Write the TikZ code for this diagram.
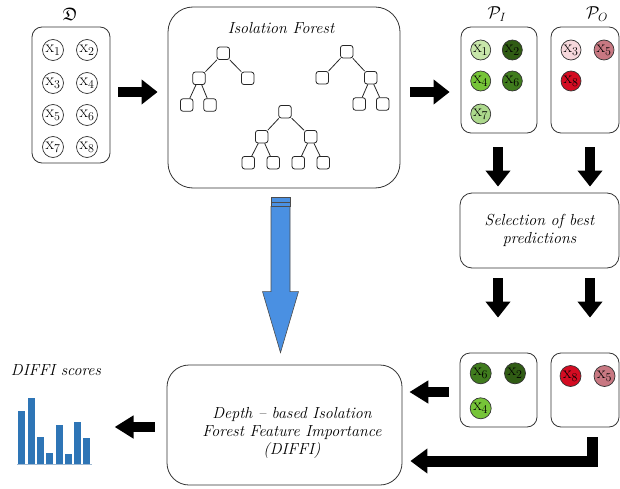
\documentclass[tikz,border=0pt]{standalone}
\usepackage{amssymb}
\usetikzlibrary{arrows.meta,calc}

\definecolor{gA}{RGB}{200,230,170}
\definecolor{gB}{RGB}{48,92,20}
\definecolor{gC}{RGB}{118,196,56}
\definecolor{gD}{RGB}{64,124,30}
\definecolor{gE}{RGB}{172,216,140}
\definecolor{rA}{RGB}{246,216,220}
\definecolor{rB}{RGB}{200,120,130}
\definecolor{rC}{RGB}{212,12,34}
\definecolor{arrowblue}{RGB}{74,144,226}
\definecolor{barblue}{RGB}{46,117,182}
\definecolor{axisblue}{RGB}{160,185,210}

\tikzset{
  panel/.style={draw=black!80, line width=0.8pt, rounded corners=#1, inner sep=0pt},
  panel/.default=10pt,
  dot/.style={circle, draw=black!80, line width=0.7pt, minimum size=21pt, inner sep=0pt,
              font=\fontsize{17}{17}\selectfont},
  leaf/.style={draw=black!85, rounded corners=2.5pt, minimum size=12.5pt, inner sep=0pt,
               line width=0.8pt},
  branch/.style={draw=black!85, line width=0.8pt},
  fat/.style={line width=10pt, -{Triangle[length=16pt,width=24pt]}},
  caption/.style={font=\fontsize{16}{18}\selectfont\itshape, align=center, inner sep=0pt},
  setlabel/.style={font=\fontsize{18}{18}\selectfont, inner sep=0pt}
}

\begin{document}
\begin{tikzpicture}[x=1pt,y=-1pt]
\useasboundingbox (0,0) rectangle (620,489);

% ---------- data set D ----------
\node[setlabel] (Dlab) at (70,14) {$\mathfrak{D}$};
\node[panel] (D) at (71,95) [minimum width=78pt, minimum height=136pt] {};
\node[dot] (d1) at (53,50)  {$\mathrm{x}_1$};
\node[dot] (d2) at (87,50)  {$\mathrm{x}_2$};
\node[dot] (d3) at (53,83)  {$\mathrm{x}_3$};
\node[dot] (d4) at (87,83)  {$\mathrm{x}_4$};
\node[dot] (d5) at (53,115) {$\mathrm{x}_5$};
\node[dot] (d6) at (87,115) {$\mathrm{x}_6$};
\node[dot] (d7) at (53,147) {$\mathrm{x}_7$};
\node[dot] (d8) at (87,147) {$\mathrm{x}_8$};

% ---------- isolation forest ----------
\node[panel=25pt] (IF) at (284,97.5) [minimum width=232pt, minimum height=181pt] {};
\node[caption] (IFlab) at (281,28) {Isolation Forest};

% tree 1
\node[leaf] (t1r)  at (223.3,53.3) {};
\node[leaf] (t1a)  at (199,78.3) {};
\node[leaf] (t1b)  at (247.7,78.3) {};
\node[leaf] (t1c)  at (186.7,105) {};
\node[leaf] (t1d)  at (210,105) {};
\draw[branch] (t1r) -- (t1a) (t1r) -- (t1b) (t1a) -- (t1c) (t1a) -- (t1d);
% tree 2
\node[leaf] (t2r)  at (346.7,51.7) {};
\node[leaf] (t2a)  at (322.3,77.7) {};
\node[leaf] (t2b)  at (370.7,77.7) {};
\node[leaf] (t2c)  at (359.3,104) {};
\node[leaf] (t2d)  at (382.7,104) {};
\draw[branch] (t2r) -- (t2a) (t2r) -- (t2b) (t2b) -- (t2c) (t2b) -- (t2d);
% tree 3
\node[leaf] (t3r)  at (285,111.7) {};
\node[leaf] (t3a)  at (261.7,136.7) {};
\node[leaf] (t3b)  at (310.7,136.7) {};
\node[leaf] (t3c)  at (248.3,162.7) {};
\node[leaf] (t3d)  at (273.3,162.7) {};
\node[leaf] (t3e)  at (298.3,162.7) {};
\node[leaf] (t3f)  at (323.3,162.7) {};
\draw[branch] (t3r) -- (t3a) (t3r) -- (t3b) (t3a) -- (t3c) (t3a) -- (t3d)
              (t3b) -- (t3e) (t3b) -- (t3f);

% ---------- predicted inliers / outliers ----------
\node[setlabel] (PIlab) at (497,14) {$\mathcal{P}_I$};
\node[setlabel] (POlab) at (597,14) {$\mathcal{P}_O$};
\node[panel] (PI) at (499,80) [minimum width=76pt, minimum height=106pt] {};
\node[panel] (PO) at (585,80) [minimum width=68pt, minimum height=106pt] {};
\node[dot, minimum size=20pt, fill=gA] (p1) at (480.7,50)  {$\mathrm{x}_1$};
\node[dot, minimum size=20pt, fill=gB] (p2) at (512.3,50)  {$\mathrm{x}_2$};
\node[dot, minimum size=20pt, fill=gC] (p4) at (480.7,81)  {$\mathrm{x}_4$};
\node[dot, minimum size=20pt, fill=gD] (p6) at (512.3,81)  {$\mathrm{x}_6$};
\node[dot, minimum size=20pt, fill=gE] (p7) at (480.7,114) {$\mathrm{x}_7$};
\node[dot, minimum size=20pt, fill=rA] (o3) at (571,50)    {$\mathrm{x}_3$};
\node[dot, minimum size=20pt, fill=rB] (o5) at (604,50)    {$\mathrm{x}_5$};
\node[dot, minimum size=20pt, fill=rC] (o8) at (571,81)    {$\mathrm{x}_8$};

% ---------- selection ----------
\node[panel=12pt, caption, minimum width=159pt, minimum height=75pt] (Sel) at (539.5,230.5)
  {Selection of best\\predictions};

% ---------- selected points ----------
\node[panel] (PI2) at (498.5,390) [minimum width=77pt, minimum height=74pt] {};
\node[panel] (PO2) at (585,390) [minimum width=68pt, minimum height=74pt] {};
\node[dot, fill=gD] (s6) at (480.7,373.3) {$\mathrm{x}_6$};
\node[dot, fill=gB] (s2) at (515,373.3)   {$\mathrm{x}_2$};
\node[dot, fill=gC] (s4) at (480.7,408.3) {$\mathrm{x}_4$};
\node[dot, fill=rC] (q8) at (570.5,376)   {$\mathrm{x}_8$};
\node[dot, fill=rB] (q5) at (604.5,376)   {$\mathrm{x}_5$};

% ---------- DIFFI ----------
\node[panel=22pt] (DIFFI) at (284.5,425) [minimum width=235pt, minimum height=120pt] {};
\node[caption] (DIFFItxt) at (292,433)
  {Depth -- based Isolation\\Forest Feature Importance\\(DIFFI)};

% ---------- DIFFI scores bar chart ----------
\node[caption] (scores) at (56,370) {DIFFI scores};
\foreach \i/\top in {0/411,1/398,2/437,3/453,4/425,5/454,6/422,7/438}{
  \fill[barblue] ({18.3+9.3*\i},\top) rectangle ({25.3+9.3*\i},464);
}
\draw[axisblue, line width=0.8pt] (17,464.3) -- (92,464.3);

% ---------- block arrows ----------
\draw[fat] ($(D.east)+(8,-3)$) -- ($(IF.west)+(-10,-5.5)$);
\draw[fat] ($(IF.east)+(10,-5.5)$) -- ($(PI.west)+(-11,12)$);
\draw[fat] ($(PI.south)+(-1,14)$) -- ($(Sel.north -| PI.south)+(-1,-6)$);
\draw[fat] ($(PO.south)+(5,14)$) -- ($(Sel.north -| PO.south)+(5,-6)$);
\draw[fat] ($(Sel.south -| PI.south)+(-1,10)$) -- ($(PI2.north -| PI.south)+(-1,-35)$);
\draw[fat] ($(Sel.south -| PO.south)+(5,10)$) -- ($(PO2.north -| PO.south)+(5,-35)$);
\draw[fat, -{Triangle[length=19pt,width=22pt]}]
  ($(PI2.west)+(-11,2)$) -- ($(DIFFI.east |- PI2.west)+(7,2)$);
\draw[fat, line width=11pt, line join=miter, -{Triangle[length=17pt,width=24pt]}]
  ($(PO2.south)+(7,10)$) |- ($(DIFFI.east)+(8,36)$);
\draw[fat, -{Triangle[length=19pt,width=22pt]}]
  ($(DIFFI.west)+(-12,2)$) -- ($(DIFFI.west)+(-52,2)$);

% ---------- blue arrow from the forest to DIFFI ----------
\coordinate (bt)  at ($(IF.south)+(-3.5,9)$);
\coordinate (tip) at ($(DIFFI.north)+(-4,-12)$);
\filldraw[fill=arrowblue, draw=black!70, line width=0.6pt]
  ($(bt)+(-9.5,9)$) -- ($(tip)+(-9.5,-61)$) -- ($(tip)+(-18,-61)$) -- (tip)
  -- ($(tip)+(18,-61)$) -- ($(tip)+(9.5,-61)$) -- ($(bt)+(9.5,9)$) -- cycle;
\filldraw[fill=arrowblue, draw=black!70, line width=0.6pt]
  ($(bt)+(-9.5,0)$) rectangle ($(bt)+(9.5,4.5)$);
\filldraw[fill=arrowblue, draw=black!70, line width=0.6pt]
  ($(bt)+(-9.5,4.5)$) rectangle ($(bt)+(9.5,9)$);
\end{tikzpicture}
\end{document}
